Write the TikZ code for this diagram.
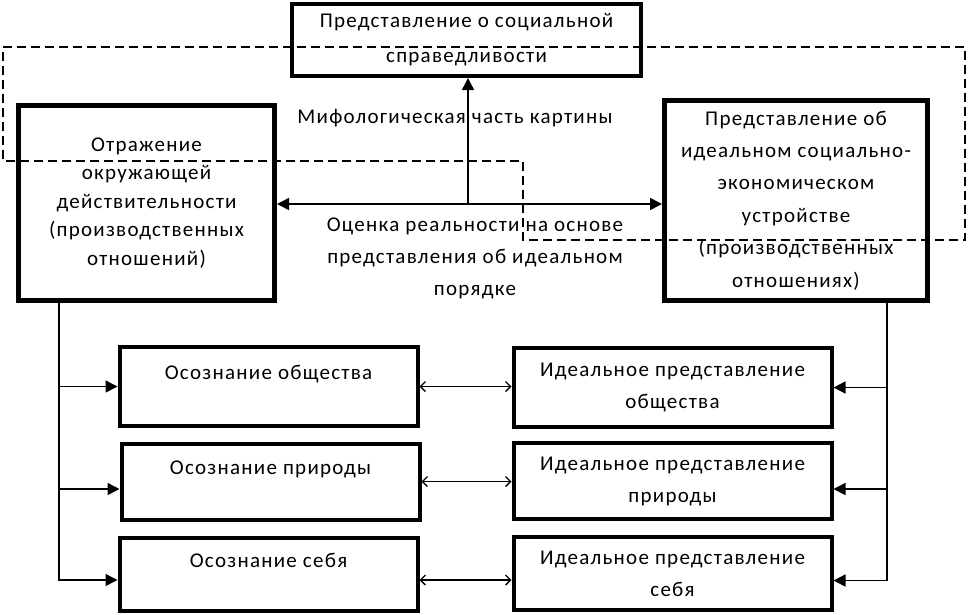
\documentclass[tikz,border=0pt]{standalone}
\usepackage{fontspec}
\setmainfont{Carlito}[LetterSpace=6]
\usetikzlibrary{arrows.meta}

\tikzset{
  tri/.tip={Triangle[length=12pt,width=12pt]},
  barb/.tip={Straight Barb[length=5pt,width=10pt,line width=1.3pt]},
  frame/.style={draw,line width=4pt,align=center,inner sep=0pt,
    font=\fontsize{21}{32}\selectfont},
  bigframe/.style={frame,line width=5pt},
  lowframe/.style={frame,line width=4pt,minimum width=298,minimum height=76},
  toptext/.style={text height=15pt,text depth=29pt},
  caption/.style={align=center,inner sep=0pt,font=\fontsize{21}{32}\selectfont},
  conn/.style={line width=1.5pt},
  dashline/.style={line width=2pt,dash pattern=on 9pt off 5pt}
}

\begin{document}
\begin{tikzpicture}[x=1pt,y=-1pt]
\useasboundingbox (0,0) rectangle (969,614);

% upper level
\node[frame,minimum width=349,minimum height=72,font=\fontsize{21}{35}\selectfont]
  (top) at (466.5,40) {Представление о социальной\\справедливости};
\node[bigframe,minimum width=256,minimum height=195,font=\fontsize{21}{28.5}\selectfont]
  (refl) at (146.5,203) {Отражение\\окружающей\\действительности\\(производственных\\отношений)};
\node[bigframe,minimum width=263,minimum height=200,font=\fontsize{21}{32.4}\selectfont]
  (ideal) at (796,200.5) {Представление об\\идеальном социально-\\экономическом\\устройстве\\(производственных\\отношениях)};

\node[caption] (myth) at (455,118) {Мифологическая часть картины};
\node[caption] (eval) at (475,258) {Оценка реальности на основе\\представления об идеальном\\порядке};

% lower level
\node[lowframe,toptext,minimum height=79] (os1) at (268.5,386.5) {Осознание общества};
\node[lowframe,toptext] (os2) at (270.5,481.5) {Осознание природы};
\node[lowframe,toptext,minimum height=73] (os3) at (268.5,574) {Осознание себя};

\node[lowframe,minimum width=318,minimum height=79] (id1) at (672.5,387.5) {Идеальное представление\\общества};
\node[lowframe,minimum width=318] (id2) at (672.5,481) {Идеальное представление\\природы};
\node[lowframe,minimum width=318,minimum height=73] (id3) at (672.5,573.5) {Идеальное представление\\себя};

% connectors
\coordinate (mid) at (468,204);
\coordinate (lt) at (59,303);
\coordinate (rt) at (887,303);
\draw[conn,tri-tri] (refl.east |- mid) -- (ideal.west |- mid);
\draw[conn,-tri] (mid) -- (mid |- top.south);

\draw[conn,-tri] (lt) |- (os1.west);
\draw[conn,-tri] (lt) |- ([yshift=-7.5pt]os2.west);
\draw[conn,-tri] (lt) |- ([yshift=-6pt]os3.west);
\draw[conn,-tri] (rt) |- (id1.east);
\draw[conn,-tri] (rt) |- ([yshift=-8pt]id2.east);
\draw[conn,-tri] (rt) |- ([yshift=-7pt]id3.east);

\draw[conn,barb-barb] (os1.east) -- (os1.east -| id1.west);
\draw[conn,barb-barb] (os2.east) -- (os2.east -| id2.west);
\draw[conn,barb-barb] ([yshift=-6pt]os3.east) -- ([yshift=-6pt]os3.east -| id3.west);

% mythological part
\draw[dashline] (3,47) -- (965,47) -- (965,240) -- (523,240) -- (523,161) -- (3,161) -- cycle;
\end{tikzpicture}
\end{document}
